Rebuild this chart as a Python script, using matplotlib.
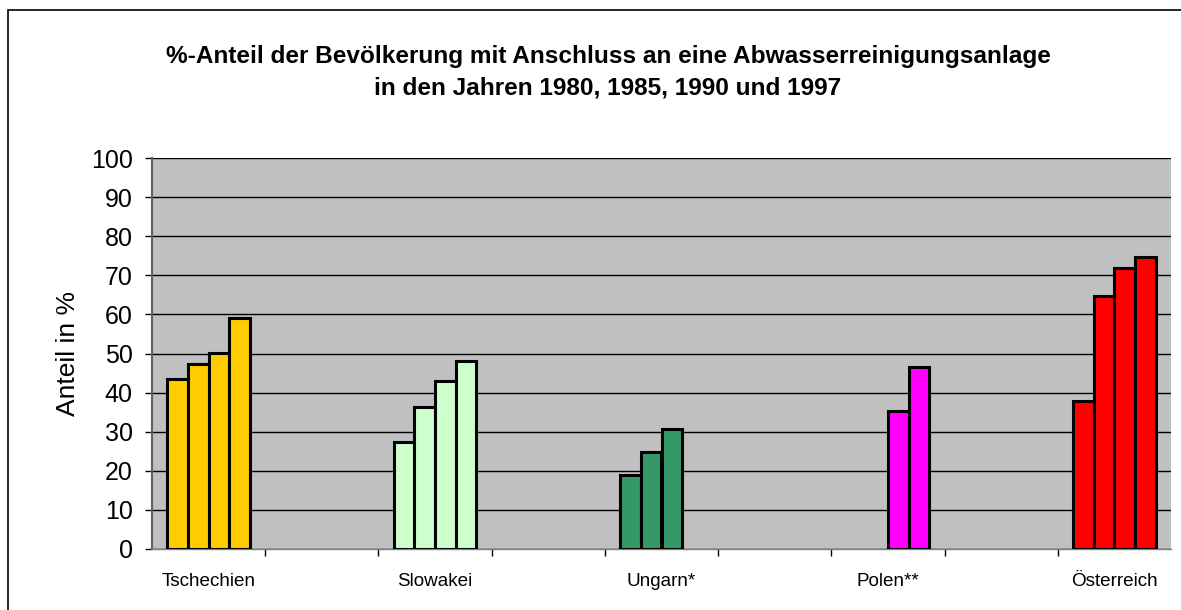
import numpy as np
import matplotlib
matplotlib.use("Agg")
import matplotlib.pyplot as plt

plt.rcParams['font.family'] = ['Liberation Sans', 'DejaVu Sans']

# 9 Kategorien, leere dazwischen
laender = ['Tschechien', '', 'Slowakei', '', 'Ungarn*', '', 'Polen**', '', 'Österreich']
jahre = [1980, 1985, 1990, 1997]
tschechien = [43.5, 47.3, 50.2, 59.1]
slowakei = [27.3, 36.4, 43.0, 48.1]
ungarn = [18.8, 24.8, 30.7, np.nan]
polen = [np.nan, np.nan, 35.4, 46.6]
oesterreich = [37.8, 64.8, 71.8, 74.6]
farben = ['#FFCC00', '#CCFFCC', '#339966', '#FF00FF', '#FF0000']

werte = [tschechien, None, slowakei, None, ungarn, None, polen, None, oesterreich]

fig = plt.figure(figsize=(11.81, 6.10), dpi=100)
fig.patch.set_facecolor('white')
# Rahmen des Diagrammbereichs (rechts/unten abgeschnitten)
fig.add_artist(plt.Rectangle((8/1181, -0.1), 1.2, 1 - 10/610 + 0.1, transform=fig.transFigure,
                             fill=False, edgecolor='black', linewidth=1.2))

ax = fig.add_axes([152/1181, 1 - 549/610, (1171 - 152)/1181, (549 - 158)/610])
ax.set_facecolor('#C0C0C0')

w = 1 / 5.5
k = 0
for i, v in enumerate(werte):
    if v is None:
        continue
    for j in range(4):
        if np.isnan(v[j]):
            continue
        ax.bar(i + (j - 1.5) * w, v[j], width=w, color=farben[k], edgecolor='black',
               linewidth=2.2, zorder=3)
    k += 1

ax.set_xlim(-0.5, 8.5)
ax.set_ylim(0, 100)
ax.set_yticks(range(0, 101, 10))
ax.yaxis.grid(True, color='black', linewidth=1.0, zorder=0)
ax.set_axisbelow(True)

ax.set_xticks(range(9))
ax.set_xticklabels(laender, fontsize=13.6)
ax.set_xticks(np.arange(0.5, 8.5, 1), minor=True)
ax.tick_params(axis='x', which='major', length=0, pad=17)
ax.tick_params(axis='x', which='minor', length=5, width=1, color='black', direction='out')
ax.tick_params(axis='y', length=5, width=1, labelsize=18, pad=9, direction='out')

for s in ['top', 'right']:
    ax.spines[s].set_visible(False)
ax.spines['left'].set_color('#606060')
ax.spines['left'].set_linewidth(1.5)
ax.spines['bottom'].set_color('#808080')
ax.spines['bottom'].set_linewidth(1.0)

ax.set_ylabel('Anteil in %', fontsize=19, labelpad=8)

fig.text(608/1181, 1 - 57/610, '%-Anteil der Bevölkerung mit Anschluss an eine Abwasserreinigungsanlage',
         ha='center', va='center', fontsize=17.6, fontweight='bold')
fig.text(608/1181, 1 - 88/610, 'in den Jahren 1980, 1985, 1990 und 1997',
         ha='center', va='center', fontsize=17.6, fontweight='bold')

fig.savefig('out.png', dpi=100)
